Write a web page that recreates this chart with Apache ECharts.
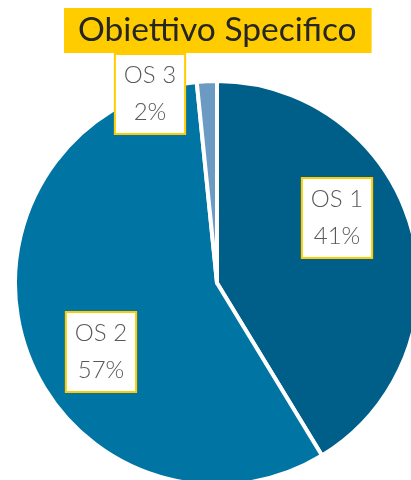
<!DOCTYPE html>
<html><head><meta charset="utf-8">
<script src="https://cdn.jsdelivr.net/npm/echarts@6/dist/echarts.min.js"></script>
<style>html,body{margin:0;padding:0;background:#fff}#c{width:411px;height:480px}</style>
</head><body><div id="c"></div>
<script>
const categories = ['OS 1', 'OS 2', 'OS 3'];
const values = [41.3, 57.1, 1.6];
const colors = ['#005F89', '#0075A4', '#6B9BC3'];
const titleText = 'Obiettivo Specifico';

const labelPos = [[337, 218], [101, 352], [150, 94]];

const chart = echarts.init(document.getElementById('c'), null, {renderer: 'canvas'});
chart.setOption({
  animation: false,
  title: {
    text: titleText,
    left: 64, top: 8,
    backgroundColor: '#FFCC00',
    padding: [5, 15, 6, 14],
    textStyle: {fontFamily: 'Lato', fontSize: 33.5, fontWeight: 'normal', color: '#262626', lineHeight: 34}
  },
  series: [{
    type: 'pie',
    center: [217, 283],
    radius: 202,
    startAngle: 90,
    clockwise: true,
    z: 1,
    data: categories.map((c, i) => ({name: c, value: values[i], itemStyle: {color: colors[i]}})),
    itemStyle: {borderColor: '#fff', borderWidth: 4},
    labelLine: {show: false},
    label: {
      show: true,
      position: 'inside',
      formatter: p => p.name + '\n' + Math.round(p.value) + '%',
      fontFamily: 'Lato', fontSize: 24, fontWeight: 300, color: '#595959', lineHeight: 37,
      backgroundColor: '#fff', borderColor: '#FFCC00', borderWidth: 2,
      padding: [2, 8, 2, 8], align: 'center'
    },
    labelLayout: p => ({x: labelPos[p.dataIndex][0], y: labelPos[p.dataIndex][1], align: 'center', verticalAlign: 'middle'})
  }]
});
</script></body></html>
